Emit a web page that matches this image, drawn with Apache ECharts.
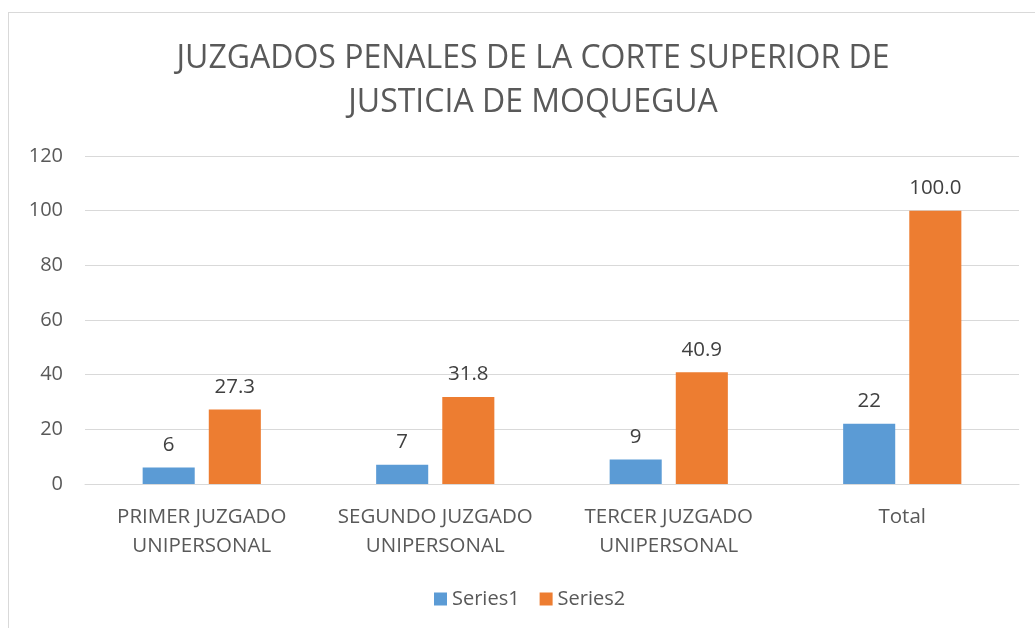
<!DOCTYPE html>
<html>
<head>
<meta charset="utf-8">
<script src="https://cdn.jsdelivr.net/npm/echarts@6/dist/echarts.min.js"></script>
<style>
  body { margin: 0; background: #fff; }
  #frame { position: absolute; left: 8px; top: 12px; width: 1100px; height: 700px; border: 1px solid #d9d9d9; }
  #main { position: absolute; left: 0; top: 0; width: 1035px; height: 628px; }
</style>
</head>
<body>
<div id="frame"></div>
<div id="main"></div>
<script>
  // datos
  const categories = ['PRIMER JUZGADO\nUNIPERSONAL', 'SEGUNDO JUZGADO\nUNIPERSONAL', 'TERCER JUZGADO\nUNIPERSONAL', 'Total'];
  const series1 = [6, 7, 9, 22];
  const series2 = [27.3, 31.8, 40.9, 100.0];
  const yTicks = [0, 20, 40, 60, 80, 100, 120];

  const font = 'Open Sans';
  const chart = echarts.init(document.getElementById('main'));
  const option = {
    animation: false,
    title: {
      text: 'JUZGADOS PENALES DE LA CORTE SUPERIOR DE\nJUSTICIA DE MOQUEGUA',
      left: 528,
      textAlign: 'center',
      top: 32,
      textStyle: { fontFamily: font, fontWeight: 'normal', fontSize: 32, color: '#595959', lineHeight: 44 }
    },
    legend: {
      bottom: 14,
      left: 429,
      itemWidth: 13,
      itemHeight: 13,
      itemGap: 20,
      icon: 'rect',
      textStyle: { fontFamily: font, fontSize: 20, color: '#595959' }
    },
    grid: { left: 85, right: 16, top: 156, bottom: 144 },
    xAxis: {
      type: 'category',
      data: categories,
      axisLine: { lineStyle: { color: '#d9d9d9', width: 1 } },
      axisTick: { show: false },
      axisLabel: { interval: 0, hideOverlap: false, fontFamily: font, fontSize: 20.5, color: '#595959', lineHeight: 29, margin: 19 }
    },
    yAxis: {
      type: 'value',
      min: yTicks[0],
      max: yTicks[yTicks.length - 1],
      interval: 20,
      axisLine: { show: false },
      axisTick: { show: false },
      splitLine: { lineStyle: { color: '#d9d9d9', width: 1 } },
      axisLabel: { fontFamily: font, fontSize: 20, color: '#595959', margin: 22 }
    },
    series: [
      {
        name: 'Series1',
        type: 'bar',
        data: series1,
        barWidth: '22.3%',
        barGap: '27%',
        itemStyle: { color: '#5b9bd5' },
        label: { show: true, position: 'top', distance: 12, fontFamily: font, fontSize: 20.5, color: '#404040' }
      },
      {
        name: 'Series2',
        type: 'bar',
        data: series2,
        barWidth: '22.3%',
        itemStyle: { color: '#ed7d31' },
        label: {
          show: true, position: 'top', distance: 12, fontFamily: font, fontSize: 20.5, color: '#404040',
          formatter: p => p.value.toFixed(1)
        }
      }
    ]
  };
  chart.setOption(option);
</script>
</body>
</html>
